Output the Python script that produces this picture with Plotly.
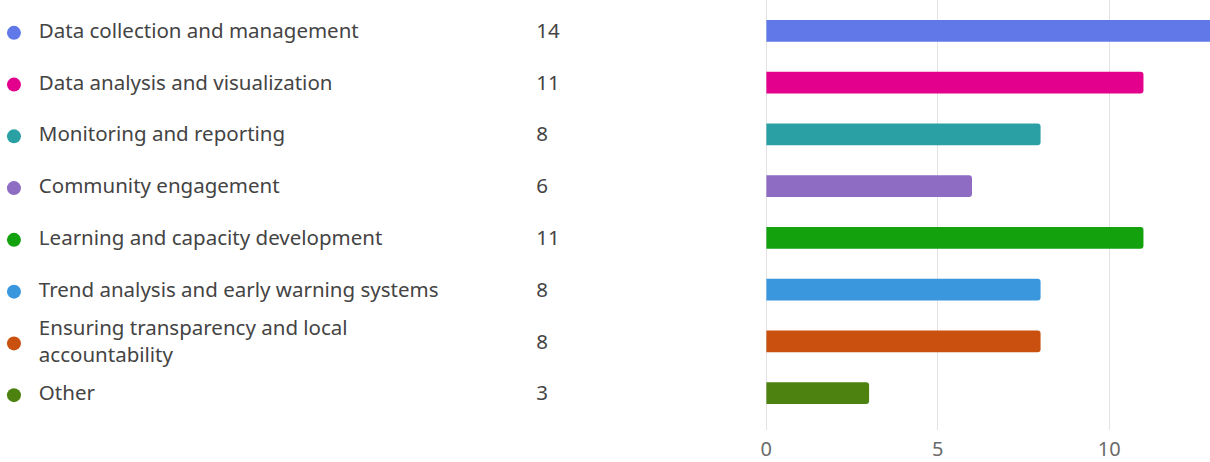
import plotly.graph_objects as go

categories = [
    "Data collection and management",
    "Data analysis and visualization",
    "Monitoring and reporting",
    "Community engagement",
    "Learning and capacity development",
    "Trend analysis and early warning systems",
    "Ensuring transparency and local<br>accountability",
    "Other",
]
counts = [14, 11, 8, 6, 11, 8, 8, 3]
colors = ["#6078E8", "#E3008C", "#2AA0A4", "#8E6CC4", "#13A10E", "#3A96DD", "#CA5010", "#4E8210"]
tick_vals = [0, 5, 10]

FONT = "Noto Sans"
TEXT_COLOR = "#444444"

ids = list(range(len(categories)))

fig = go.Figure()

# bars
fig.add_trace(go.Bar(
    x=counts, y=ids, orientation="h",
    marker=dict(color=colors, cornerradius=3, line=dict(width=0)),
    width=0.42, xaxis="x", yaxis="y", hoverinfo="skip", showlegend=False,
))

# legend dots
fig.add_trace(go.Scatter(
    x=[8] * len(ids), y=ids, mode="markers",
    marker=dict(color=colors, size=14, symbol="circle"),
    xaxis="x2", yaxis="y2", hoverinfo="skip", showlegend=False,
))
# labels
fig.add_trace(go.Scatter(
    x=[33] * len(ids), y=ids, mode="text", text=categories,
    textposition="middle right",
    textfont=dict(family=FONT, size=20.5, color=TEXT_COLOR),
    xaxis="x2", yaxis="y2", hoverinfo="skip", showlegend=False,
))
# counts
fig.add_trace(go.Scatter(
    x=[533] * len(ids), y=ids, mode="text", text=[str(c) for c in counts],
    textposition="middle right",
    textfont=dict(family=FONT, size=20.5, color=TEXT_COLOR),
    xaxis="x2", yaxis="y2", hoverinfo="skip", showlegend=False,
))

fig.update_layout(
    width=1210, height=462,
    margin=dict(l=0, r=0, t=0, b=30),
    paper_bgcolor="white", plot_bgcolor="white",
    bargap=0.5,
    xaxis=dict(
        domain=[764 / 1210, 1], range=[0, 12.94],
        tickvals=tick_vals, ticktext=[str(v) for v in tick_vals],
        showgrid=True, gridcolor="#e3e3e3", gridwidth=1,
        zeroline=True, zerolinecolor="#e3e3e3", zerolinewidth=1,
        showline=False, ticks="", ticklabelstandoff=5,
        tickfont=dict(family=FONT, size=20, color="#6a6a6a"),
    ),
    xaxis2=dict(
        domain=[0, 726 / 1210], range=[0, 726], anchor="y2",
        visible=False, showgrid=False, zeroline=False,
    ),
    yaxis=dict(
        range=[7.712, -0.596], visible=False, showgrid=False, zeroline=False,
    ),
    yaxis2=dict(
        overlaying="y", range=[7.6735, -0.6345], anchor="x2",
        visible=False, showgrid=False, zeroline=False,
    ),
)

fig.write_html("out.html")
